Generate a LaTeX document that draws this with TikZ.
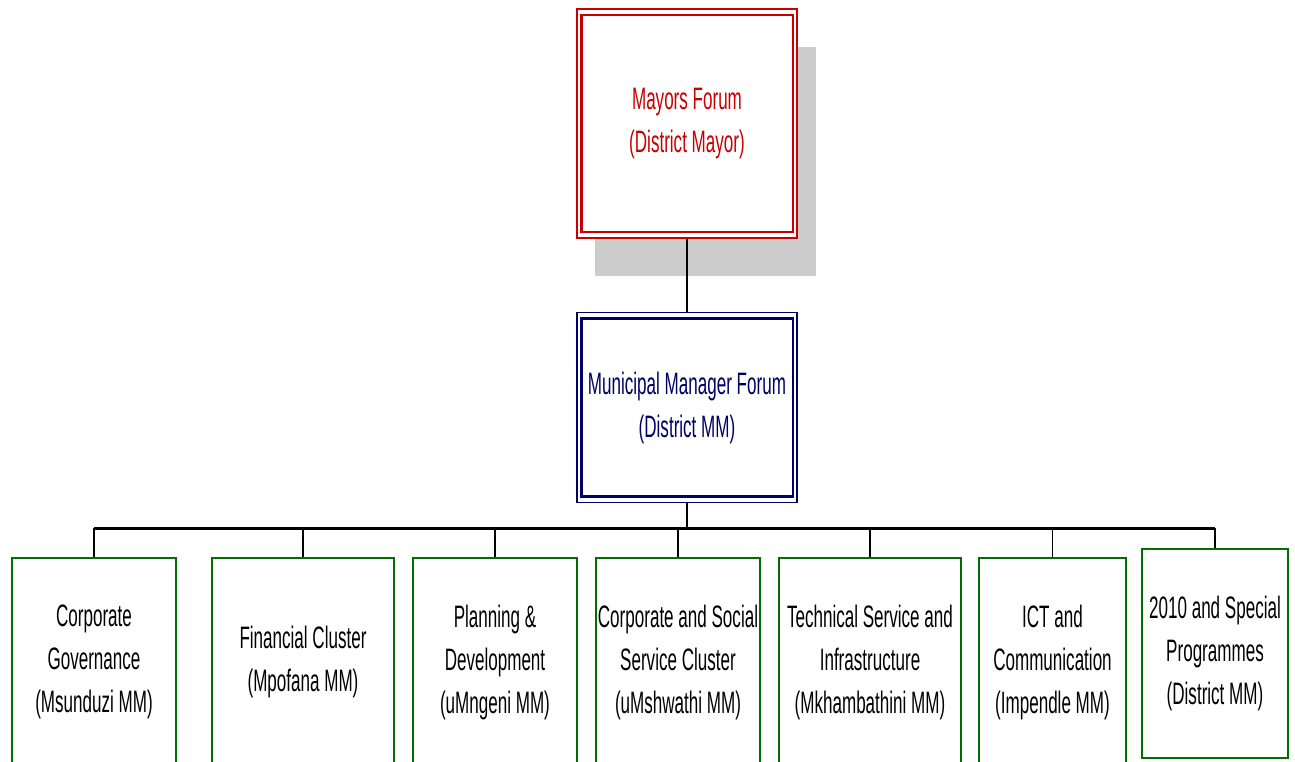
\documentclass[tikz,border=0pt]{standalone}
\usepackage{fontspec}
\setmainfont{Liberation Sans}[FakeStretch=0.55]
\definecolor{myred}{RGB}{200,0,0}
\definecolor{mynavy}{RGB}{0,0,102}
\definecolor{mygreen}{RGB}{0,110,0}
\definecolor{shadowgray}{RGB}{204,204,204}
\begin{document}
\begin{tikzpicture}[x=1pt,y=-1pt,
  lbl/.style={font=\fontsize{31}{43}\selectfont, align=center, inner sep=0pt},
  topbox/.style={lbl, draw=myred, text=myred, line width=1.6pt, fill=white, minimum width=220pt, minimum height=229pt},
  midbox/.style={lbl, draw=mynavy, text=mynavy, line width=1.6pt, fill=white, minimum width=220pt, minimum height=190pt},
  unitbox/.style={lbl, draw=mygreen, text=black, line width=1.8pt, fill=white, minimum height=208pt},
  conn/.style={draw=black, line width=1.4pt},
  bus/.style={draw=black, line width=3pt}]
\clip (0,0) rectangle (1295,762);
\fill[white] (0,0) rectangle (1295,762);
% shadow
\fill[shadowgray] (595,47) rectangle (816,276);
% top
\node[topbox] (mayor) at (687,123.5) {Mayors Forum\\(District Mayor)};
\draw[myred, line width=2.6pt] ([xshift=5pt,yshift=-7pt]mayor.north west) rectangle ([xshift=-5pt,yshift=7pt]mayor.south east);
% middle
\node[midbox] (mm) at (687,407.5) {Municipal Manager Forum\\(District MM)};
\draw[mynavy, line width=2.6pt] ([xshift=5pt,yshift=-7pt]mm.north west) rectangle ([xshift=-5pt,yshift=7pt]mm.south east);
\draw[conn] (mayor.south) -- (mm.north);
% bottom units
\node[unitbox, minimum width=164pt] (b1) at (94,662) {Corporate\\Governance\\(Msunduzi MM)};
\node[unitbox, minimum width=182pt] (b2) at (303,662) {Financial Cluster\\(Mpofana MM)};
\node[unitbox, minimum width=164pt] (b3) at (495,662) {Planning \&\\Development\\(uMngeni MM)};
\node[unitbox, minimum width=164pt] (b4) at (678,662) {Corporate and Social\\Service Cluster\\(uMshwathi MM)};
\node[unitbox, minimum width=182pt] (b5) at (870,662) {Technical Service and\\Infrastructure\\(Mkhambathini MM)};
\node[unitbox, minimum width=147pt] (b6) at (1052.5,662) {ICT and\\Communication\\(Impendle MM)};
\node[unitbox, minimum width=146pt, minimum height=209pt] (b7) at (1215,653.5) {2010 and Special\\Programmes\\(District MM)};
% bus
\coordinate (busL) at (94,528);
\coordinate (busR) at (1215,528);
\draw[conn] (mm.south) -- (mm.south |- busL);
\foreach \b in {b1,b2,b3,b4,b5,b6,b7}{
  \draw[conn] (\b.north) -- (\b.north |- busL);
}
\draw[bus] (busL) -- (busR);
\end{tikzpicture}
\end{document}
